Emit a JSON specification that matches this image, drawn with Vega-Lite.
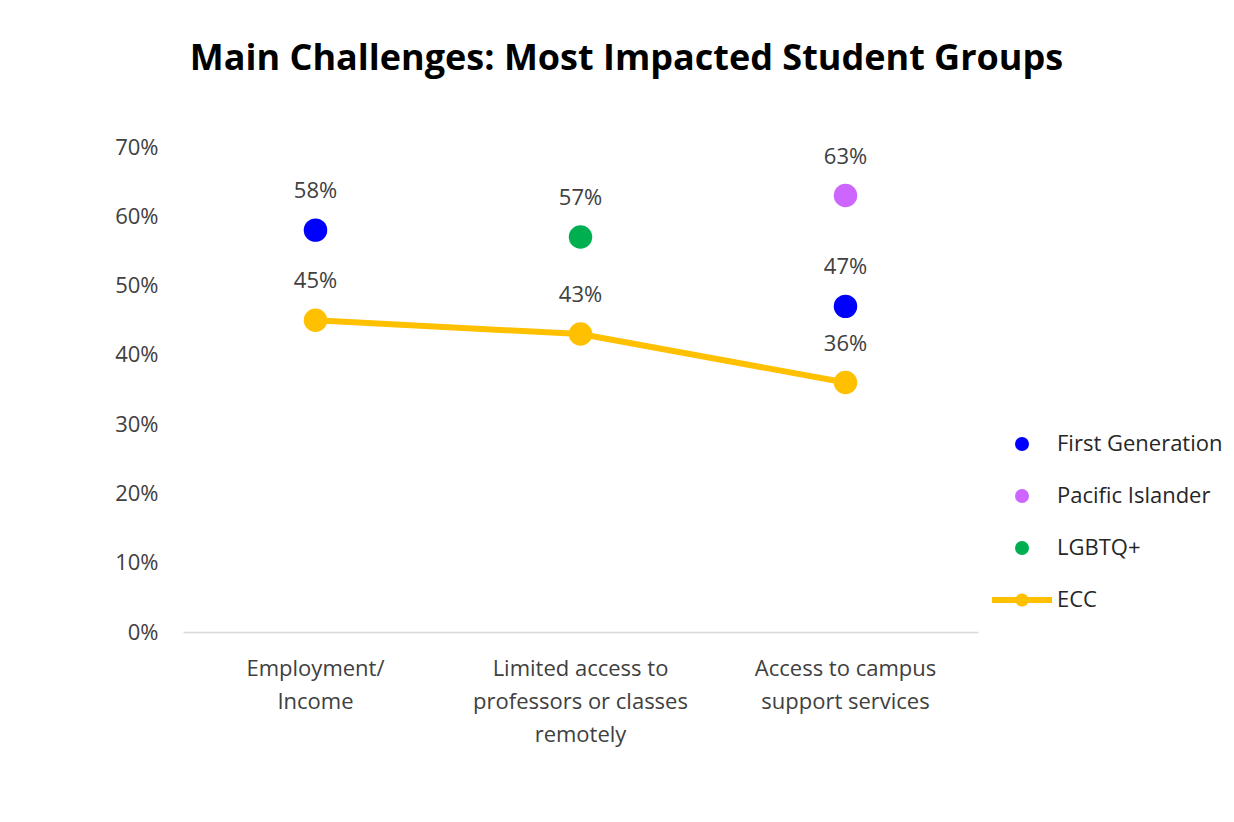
{
  "$schema": "https://vega.github.io/schema/vega-lite/v6.json",
  "autosize": {"type": "none"},
  "padding": {"left": 183, "top": 147, "right": 256, "bottom": 190},
  "width": 795,
  "height": 485,
  "background": "white",
  "title": {
    "text": "Main Challenges: Most Impacted Student Groups",
    "font": "Open Sans",
    "fontSize": 36,
    "fontWeight": "bold",
    "color": "#000000",
    "anchor": "middle",
    "frame": "group",
    "offset": 58,
    "dx": 46
  },
  "config": {
    "view": {"stroke": null},
    "font": "Open Sans"
  },
  "data": {
    "values": [
      {"challenge": "Employment/Income", "group": "First Generation", "value": 0.58},
      {"challenge": "Employment/Income", "group": "ECC", "value": 0.45},
      {"challenge": "Limited access to professors or classes remotely", "group": "LGBTQ+", "value": 0.57},
      {"challenge": "Limited access to professors or classes remotely", "group": "ECC", "value": 0.43},
      {"challenge": "Access to campus support services", "group": "Pacific Islander", "value": 0.63},
      {"challenge": "Access to campus support services", "group": "First Generation", "value": 0.47},
      {"challenge": "Access to campus support services", "group": "ECC", "value": 0.36}
    ]
  },
  "encoding": {
    "x": {
      "field": "challenge",
      "type": "nominal",
      "sort": null,
      "scale": {"type": "band", "paddingInner": 0, "paddingOuter": 0},
      "axis": {
        "title": null,
        "labelAngle": 0,
        "ticks": false,
        "domain": true,
        "domainColor": "#D9D9D9",
        "domainWidth": 1.5,
        "labelFontSize": 22,
        "labelColor": "#404040",
        "labelPadding": 26,
        "labelLineHeight": 33,
        "labelBaseline": "top",
        "labelLimit": 0,
        "labelExpr": "datum.value == 'Employment/Income' ? ['Employment/', 'Income'] : datum.value == 'Limited access to professors or classes remotely' ? ['Limited access to', 'professors or classes', 'remotely'] : ['Access to campus', 'support services']"
      }
    },
    "y": {
      "field": "value",
      "type": "quantitative",
      "scale": {"domain": [0, 0.7], "nice": false},
      "axis": {
        "title": null,
        "values": [0, 0.1, 0.2, 0.3, 0.4, 0.5, 0.6, 0.7],
        "format": ".0%",
        "grid": false,
        "domain": false,
        "ticks": false,
        "labelFontSize": 22,
        "labelColor": "#404040",
        "labelPadding": 25
      }
    }
  },
  "layer": [
    {
      "transform": [{"filter": "datum.group == 'ECC'"}],
      "mark": {"type": "line", "color": "#FFC000", "strokeWidth": 6},
      "encoding": {}
    },
    {
      "mark": {"type": "point", "filled": true, "opacity": 1, "size": 550, "shape": "circle"},
      "encoding": {
        "color": {
          "field": "group",
          "type": "nominal",
          "scale": {
            "domain": ["First Generation", "Pacific Islander", "LGBTQ+", "ECC"],
            "range": ["#0000FF", "#CC66FF", "#00B050", "#FFC000"]
          },
          "legend": {
            "orient": "none",
            "legendX": 828,
            "legendY": 286,
            "title": null,
            "padding": 0,
            "labelFontSize": 22,
            "labelColor": "#262626",
            "labelOffset": 24,
            "labelLimit": 0,
            "rowPadding": 30,
            "symbolSize": 196,
            "symbolStrokeWidth": 0,
            "symbolOpacity": 1,
            "encode": {
              "symbols": {
                "update": {
                  "shape": {"signal": "datum.value == 'ECC' ? 'M-1,-0.1 L-0.2,-0.1 L-0.2,0.1 L-1,0.1 Z M0.2,-0.1 L1,-0.1 L1,0.1 L0.2,0.1 Z M-0.22,0 A0.22,0.22 0 1,1 0.22,0 A0.22,0.22 0 1,1 -0.22,0 Z' : 'circle'"},
                  "size": {"signal": "datum.value == 'ECC' ? 3600 : 196"}
                }
              }
            }
          }
        }
      }
    },
    {
      "mark": {"type": "text", "fontSize": 22, "color": "#404040", "baseline": "middle", "dy": -39},
      "encoding": {
        "text": {"field": "value", "type": "quantitative", "format": ".0%"}
      }
    }
  ]
}
